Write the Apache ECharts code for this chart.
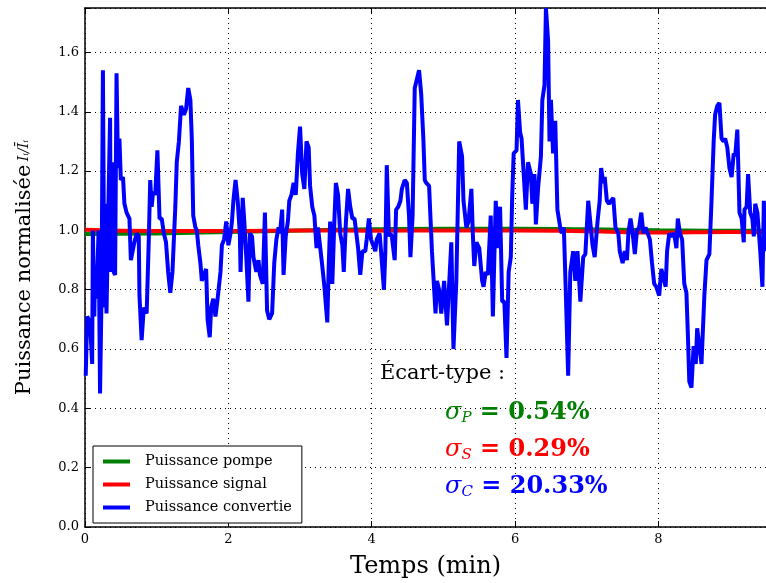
<!DOCTYPE html>
<html lang="fr" style="height: 100%">
<head>
  <meta charset="utf-8">
</head>
<body style="height: 100%; margin: 0">
  <div id="container" style="width: 766px; height: 583px"></div>
  <script type="text/javascript" src="https://cdn.jsdelivr.net/npm/echarts@6/dist/echarts.min.js"></script>
  <script type="text/javascript">
    // temps (min) / puissance convertie normalisee
    var convTime = [
      0.01, 0.03, 0.07, 0.10, 0.11, 0.13, 0.14, 0.16, 0.19, 0.21, 0.23, 0.25, 0.27, 0.28, 0.30, 0.33, 0.35, 0.36, 0.38, 0.40,
      0.42, 0.44, 0.46, 0.48, 0.50, 0.53, 0.55, 0.58, 0.62, 0.64, 0.68, 0.70, 0.72, 0.75, 0.76, 0.79, 0.82, 0.86, 0.89, 0.91,
      0.93, 0.95, 0.98, 1.01, 1.04, 1.07, 1.10, 1.13, 1.16, 1.19, 1.22, 1.26, 1.28, 1.31, 1.34, 1.36, 1.38, 1.41, 1.44, 1.47,
      1.49, 1.51, 1.54, 1.56, 1.58, 1.61, 1.63, 1.66, 1.69, 1.71, 1.74, 1.76, 1.79, 1.82, 1.85, 1.89, 1.91, 1.94, 1.97, 2.00,
      2.03, 2.05, 2.07, 2.10, 2.13, 2.16, 2.17, 2.20, 2.22, 2.25, 2.28, 2.30, 2.33, 2.35, 2.39, 2.42, 2.44, 2.48, 2.51, 2.54,
      2.57, 2.61, 2.64, 2.67, 2.70, 2.72, 2.75, 2.77, 2.80, 2.83, 2.85, 2.88, 2.91, 2.94, 2.97, 3.00, 3.03, 3.06, 3.09, 3.12,
      3.14, 3.17, 3.20, 3.23, 3.25, 3.27, 3.31, 3.34, 3.38, 3.40, 3.42, 3.45, 3.48, 3.50, 3.53, 3.56, 3.59, 3.61, 3.64, 3.67,
      3.70, 3.73, 3.76, 3.79, 3.81, 3.84, 3.87, 3.91, 3.93, 3.96, 3.99, 4.02, 4.05, 4.07, 4.11, 4.13, 4.17, 4.19, 4.21, 4.24,
      4.26, 4.28, 4.32, 4.34, 4.37, 4.40, 4.42, 4.46, 4.49, 4.52, 4.54, 4.57, 4.60, 4.62, 4.66, 4.69, 4.72, 4.74, 4.76, 4.80,
      4.84, 4.89, 4.91, 4.94, 4.97, 5.01, 5.05, 5.11, 5.14, 5.18, 5.22, 5.26, 5.28, 5.32, 5.35, 5.39, 5.41, 5.43, 5.46, 5.50,
      5.54, 5.56, 5.59, 5.62, 5.66, 5.69, 5.73, 5.76, 5.79, 5.82, 5.85, 5.88, 5.91, 5.94, 5.96, 5.98, 6.02, 6.04, 6.07, 6.09,
      6.12, 6.15, 6.18, 6.22, 6.24, 6.27, 6.29, 6.32, 6.36, 6.38, 6.41, 6.43, 6.46, 6.48, 6.50, 6.53, 6.56, 6.59, 6.63, 6.65,
      6.68, 6.71, 6.74, 6.77, 6.81, 6.84, 6.87, 6.91, 6.95, 6.98, 7.02, 7.04, 7.08, 7.11, 7.15, 7.18, 7.20, 7.23, 7.25, 7.28,
      7.31, 7.34, 7.37, 7.40, 7.44, 7.46, 7.50, 7.53, 7.56, 7.58, 7.61, 7.64, 7.67, 7.70, 7.73, 7.76, 7.79, 7.82, 7.85, 7.88,
      7.91, 7.94, 7.97, 8.01, 8.04, 8.07, 8.10, 8.12, 8.15, 8.18, 8.22, 8.25, 8.27, 8.30, 8.33, 8.36, 8.39, 8.41, 8.43, 8.46,
      8.49, 8.52, 8.54, 8.57, 8.60, 8.64, 8.67, 8.71, 8.74, 8.77, 8.79, 8.82, 8.85, 8.88, 8.91, 8.93, 8.96, 8.99, 9.02, 9.05,
      9.07, 9.10, 9.13, 9.16, 9.19, 9.20, 9.23, 9.25, 9.28, 9.31, 9.33, 9.35, 9.38, 9.42, 9.45, 9.47, 9.50
    ];
    var convValue = [
      0.51, 0.71, 0.69, 0.55, 1.00, 0.71, 0.88, 0.77, 1.00, 0.45, 0.77, 1.54, 0.74, 1.09, 0.72, 1.13, 1.38, 0.86, 1.23, 0.86,
      0.85, 1.53, 1.21, 1.31, 1.17, 1.18, 1.09, 1.06, 1.04, 0.90, 0.95, 0.95, 0.99, 0.98, 0.78, 0.63, 0.74, 0.72, 0.97, 1.17,
      1.08, 1.13, 1.12, 1.27, 1.04, 1.04, 0.99, 0.96, 0.86, 0.79, 0.86, 1.08, 1.23, 1.30, 1.42, 1.42, 1.39, 1.41, 1.48, 1.44,
      1.31, 1.05, 1.01, 1.00, 0.95, 0.89, 0.83, 0.85, 0.87, 0.70, 0.64, 0.74, 0.77, 0.71, 0.77, 0.86, 0.95, 0.97, 1.03, 0.95,
      0.99, 1.03, 1.10, 1.17, 1.10, 0.99, 0.86, 1.11, 1.04, 0.91, 0.76, 0.99, 0.98, 0.91, 0.86, 0.90, 0.85, 0.82, 1.06, 0.73,
      0.70, 0.72, 0.89, 0.97, 1.01, 0.99, 1.07, 0.85, 0.98, 1.03, 1.10, 1.12, 1.16, 1.12, 1.26, 1.35, 1.19, 1.14, 1.30, 1.28,
      1.15, 1.08, 1.05, 0.94, 1.01, 1.01, 0.88, 0.81, 0.69, 0.88, 1.03, 0.82, 1.04, 1.16, 1.12, 0.99, 0.95, 0.86, 1.03, 1.14,
      1.08, 1.04, 1.04, 0.98, 0.94, 0.85, 0.93, 0.93, 0.97, 1.04, 0.97, 0.95, 0.93, 0.97, 0.99, 0.93, 0.80, 0.93, 1.22, 0.98,
      0.99, 0.98, 0.90, 1.07, 1.08, 1.10, 1.14, 1.17, 1.16, 1.05, 0.91, 1.05, 1.48, 1.50, 1.54, 1.46, 1.31, 1.17, 1.16, 1.15,
      0.93, 0.72, 0.83, 0.80, 0.72, 0.83, 0.68, 0.96, 0.60, 0.83, 1.30, 1.25, 1.10, 1.01, 1.03, 1.14, 0.99, 0.88, 0.96, 0.94,
      0.83, 0.81, 0.86, 0.85, 1.05, 0.71, 1.10, 0.94, 1.08, 0.76, 0.76, 0.57, 0.86, 0.91, 1.12, 1.26, 1.27, 1.44, 1.33, 1.31,
      1.19, 1.07, 1.23, 1.19, 1.09, 1.19, 1.02, 1.14, 1.25, 1.44, 1.49, 1.75, 1.64, 1.30, 1.44, 1.26, 1.37, 1.07, 1.01, 0.99,
      1.01, 0.77, 0.51, 0.86, 0.93, 0.83, 0.93, 0.76, 0.91, 0.92, 1.10, 1.10, 0.95, 0.91, 1.03, 1.10, 1.21, 1.16, 1.18, 1.10,
      1.09, 1.10, 1.11, 1.01, 0.99, 0.93, 0.89, 0.93, 0.90, 0.99, 1.04, 0.99, 0.92, 1.00, 1.01, 1.06, 0.99, 1.01, 0.99, 0.97,
      0.89, 0.82, 0.81, 0.78, 0.87, 0.84, 0.81, 0.93, 0.99, 0.98, 0.99, 0.94, 1.04, 0.99, 0.97, 0.82, 0.79, 0.65, 0.49, 0.47,
      0.61, 0.55, 0.67, 0.61, 0.55, 0.78, 0.90, 0.92, 1.10, 1.30, 1.39, 1.42, 1.43, 1.31, 1.30, 1.31, 1.28, 1.21, 1.18, 1.26,
      1.25, 1.34, 1.06, 1.04, 0.96, 1.07, 1.08, 1.19, 1.06, 1.04, 0.98, 1.09, 1.06, 0.93, 0.81, 1.10, 0.93
    ];
    // pompe et signal, quasi constants
    var flatTime = [0, 1, 2, 3, 4, 5, 6, 7, 8, 9, 9.5];
    var pumpValue = [0.988, 0.990, 0.995, 1.000, 1.004, 1.006, 1.006, 1.004, 1.001, 0.999, 0.999];
    var signalValue = [1.002, 0.998, 0.998, 1.000, 0.999, 1.000, 1.000, 0.997, 0.993, 0.995, 0.994];

    var seriesNames = ['Puissance pompe', 'Puissance signal', 'Puissance convertie'];
    var xTicks = [0, 2, 4, 6, 8];
    var stdDevs = ['0.54%', '0.29%', '20.33%'];

    function zip(xs, ys) {
      return xs.map(function (x, i) { return [x, ys[i]]; });
    }

    var serif = 'DejaVu Serif';
    var dom = document.getElementById('container');
    var myChart = echarts.init(dom, null, { renderer: 'canvas' });

    // texte graphique : les styles riches prennent "fill"
    var sigmaRich = function (color) {
      return {
        s: { fontFamily: serif, fontStyle: 'italic', fontSize: 24, fill: color },
        sub: { fontFamily: serif, fontStyle: 'italic', fontSize: 15, fill: color, padding: [10, 0, 0, 0] },
        v: { fontFamily: serif, fontWeight: 'bold', fontSize: 24, fill: color }
      };
    };

    var option = {
      animation: false,
      backgroundColor: '#fff',
      grid: { left: 85, right: 0, top: 8, bottom: 56, containLabel: false, outerBoundsMode: 'none' },
      legend: {
        orient: 'vertical',
        left: 93,
        top: 446,
        data: seriesNames,
        icon: 'rect',
        itemWidth: 27,
        itemHeight: 4,
        itemGap: 8,
        padding: [8, 10, 8, 10],
        borderColor: '#000',
        borderWidth: 1,
        borderRadius: 0,
        backgroundColor: '#fff',
        textStyle: { fontFamily: serif, fontSize: 14.5, color: '#000', padding: [0, 0, 0, 10] }
      },
      xAxis: [{
        type: 'value',
        min: 0,
        max: 9.5,
        interval: 2,
        name: 'Temps (min)',
        nameLocation: 'middle',
        nameGap: 28,
        nameTextStyle: { fontFamily: serif, fontSize: 24, color: '#000' },
        axisLine: { lineStyle: { color: '#000', width: 1.5 } },
        axisTick: { inside: true, length: 6, lineStyle: { color: '#000' } },
        axisLabel: {
          fontFamily: serif, fontSize: 13, color: '#000', margin: 6,
          formatter: function (v) { return xTicks.indexOf(v) >= 0 ? String(v) : ''; }
        },
        splitLine: { show: true, lineStyle: { color: '#000', type: [1, 4], width: 1 } }
      }, {
        type: 'value',
        position: 'top',
        min: 0,
        max: 9.5,
        interval: 2,
        axisLine: { show: true, lineStyle: { color: '#000', width: 1.5 } },
        axisTick: { inside: true, length: 6, lineStyle: { color: '#000' } },
        axisLabel: { show: false },
        splitLine: { show: false }
      }],
      yAxis: {
        type: 'value',
        min: 0,
        max: 1.75,
        interval: 0.2,
        name: '{a|Puissance normalisée} {b|Iᵢ/Īᵢ}',
        nameLocation: 'middle',
        nameGap: 50,
        nameTextStyle: {
          rich: {
            a: { fontFamily: serif, fontSize: 21, color: '#000' },
            b: { fontFamily: serif, fontStyle: 'italic', fontSize: 14, color: '#000' }
          }
        },
        axisLine: { show: true, lineStyle: { color: '#000', width: 1.5 } },
        axisTick: { show: true, inside: true, length: 6, lineStyle: { color: '#000' } },
        axisLabel: {
          fontFamily: serif, fontSize: 13, color: '#000', margin: 6,
          formatter: function (v) {
            var k = Math.round(v / 0.2);
            return Math.abs(k * 0.2 - v) < 1e-6 ? v.toFixed(1) : '';
          }
        },
        splitLine: { show: true, lineStyle: { color: '#000', type: [1, 4], width: 1 } }
      },
      series: [
        {
          name: seriesNames[0], type: 'line', showSymbol: false, symbol: 'none',
          data: zip(flatTime, pumpValue), smooth: true,
          itemStyle: { color: '#008000' }, lineStyle: { color: '#008000', width: 4 }, z: 2
        },
        {
          name: seriesNames[1], type: 'line', showSymbol: false, symbol: 'none',
          data: zip(flatTime, signalValue), smooth: true,
          itemStyle: { color: '#ff0000' }, lineStyle: { color: '#ff0000', width: 4 }, z: 3
        },
        {
          name: seriesNames[2], type: 'line', showSymbol: false, symbol: 'none',
          data: zip(convTime, convValue),
          itemStyle: { color: '#0000ff' }, lineStyle: { color: '#0000ff', width: 4 }, z: 4
        }
      ],
      graphic: [
        {
          type: 'text', left: 380, top: 363, z: 100,
          style: { text: 'Écart-type :', fontFamily: serif, fontSize: 21, fill: '#000' }
        },
        {
          type: 'text', left: 445, top: 401, z: 100,
          style: { text: '{s|σ}{sub|P}{v| = ' + stdDevs[0] + '}', rich: sigmaRich('#008000'), fill: '#008000' }
        },
        {
          type: 'text', left: 445, top: 438, z: 100,
          style: { text: '{s|σ}{sub|S}{v| = ' + stdDevs[1] + '}', rich: sigmaRich('#ff0000'), fill: '#ff0000' }
        },
        {
          type: 'text', left: 445, top: 475, z: 100,
          style: { text: '{s|σ}{sub|C}{v| = ' + stdDevs[2] + '}', rich: sigmaRich('#0000ff'), fill: '#0000ff' }
        }
      ]
    };

    myChart.setOption(option);
    window.addEventListener('resize', myChart.resize);
  </script>
</body>
</html>
